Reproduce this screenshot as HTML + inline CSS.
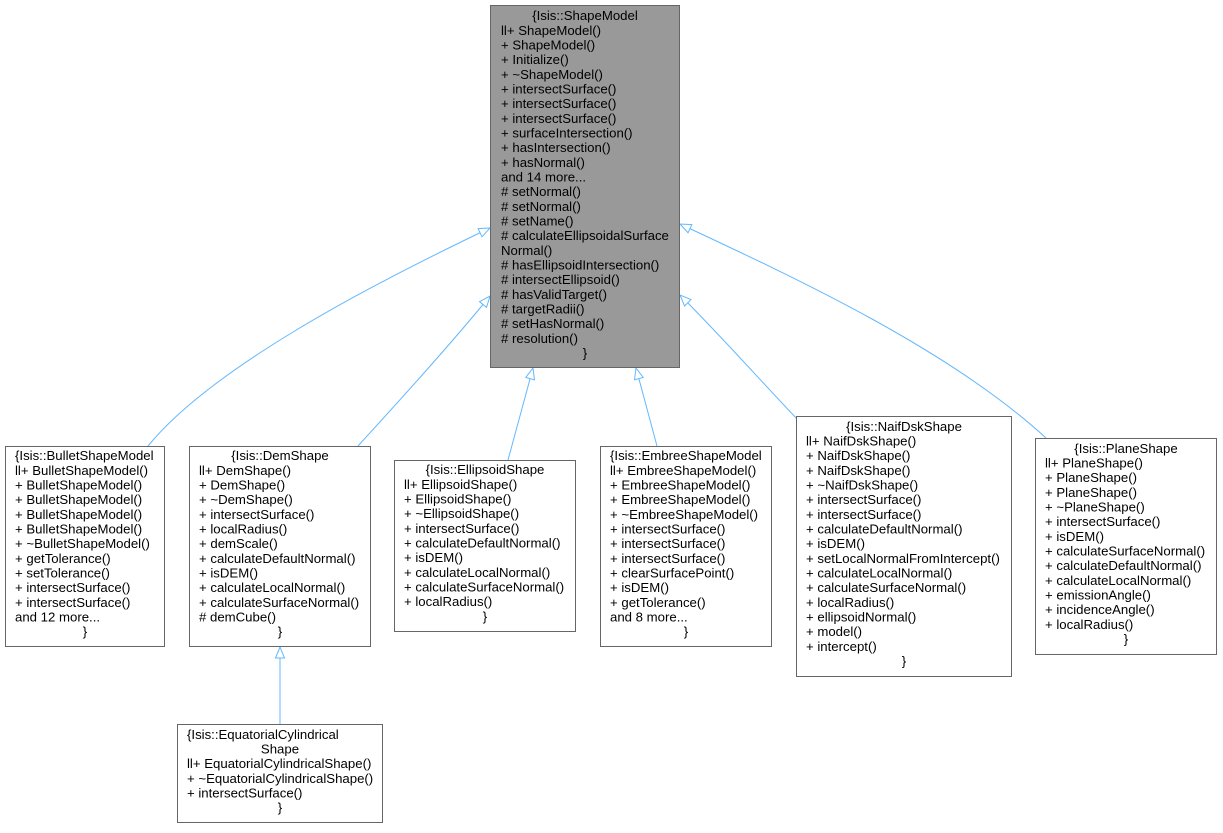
<!DOCTYPE html>
<html><head><meta charset="utf-8"><style>
html,body{margin:0;padding:0;background:#fff}
svg text{font-family:"Liberation Sans",Arial,sans-serif;font-size:13.2px;fill:#000}
</style></head><body>
<svg width="1223" height="828" viewBox="0 0 1223 828" xmlns="http://www.w3.org/2000/svg">
<defs>
<marker id="a" markerWidth="13" markerHeight="11" refX="12" refY="5.5" orient="auto" markerUnits="userSpaceOnUse">
<path d="M1,1 L12,5.5 L1,10 Z" fill="#fff" stroke="#63b8ff" stroke-width="1"/>
</marker>
</defs>
<g fill="none" stroke="#63b8ff" stroke-width="1" marker-end="url(#a)">
<path d="M148,446 C210,370 360,290 490,228"/>
<path d="M358,446 C400,400 450,345 490,296"/>
<path d="M508,460 L533,368"/>
<path d="M657,446 L636,368"/>
<path d="M798,420 C760,380 720,335 680,295"/>
<path d="M1046,438 C950,350 800,280 680,224"/>
<path d="M280,724 L280,647"/>
</g>
<rect x="490.5" y="5.5" width="189" height="362" fill="#999" stroke="#666"/>
<g>
<text x="585" y="20" text-anchor="middle">{Isis::ShapeModel</text>
<text x="501" y="35">ll+ ShapeModel()</text>
<text x="501" y="49.5">+ ShapeModel()</text>
<text x="501" y="64">+ Initialize()</text>
<text x="501" y="79">+ ~ShapeModel()</text>
<text x="501" y="93.5">+ intersectSurface()</text>
<text x="501" y="108">+ intersectSurface()</text>
<text x="501" y="123">+ intersectSurface()</text>
<text x="501" y="137.5">+ surfaceIntersection()</text>
<text x="501" y="152">+ hasIntersection()</text>
<text x="501" y="167">+ hasNormal()</text>
<text x="501" y="181.5">and 14 more...</text>
<text x="501" y="196">#&#160;setNormal()</text>
<text x="501" y="211">#&#160;setNormal()</text>
<text x="501" y="225.5">#&#160;setName()</text>
<text x="501" y="240">#&#160;calculateEllipsoidalSurface</text>
<text x="501" y="255">Normal()</text>
<text x="501" y="269.5">#&#160;hasEllipsoidIntersection()</text>
<text x="501" y="284">#&#160;intersectEllipsoid()</text>
<text x="501" y="299">#&#160;hasValidTarget()</text>
<text x="501" y="313.5">#&#160;targetRadii()</text>
<text x="501" y="328">#&#160;setHasNormal()</text>
<text x="501" y="343">#&#160;resolution()</text>
<text x="585" y="357.5" text-anchor="middle">}</text>
</g>
<rect x="5.5" y="446.5" width="159" height="200" fill="#fff" stroke="#666"/>
<g>
<text x="15" y="460">{Isis::BulletShapeModel</text>
<text x="15" y="475">ll+ BulletShapeModel()</text>
<text x="15" y="489.5">+ BulletShapeModel()</text>
<text x="15" y="504">+ BulletShapeModel()</text>
<text x="15" y="519">+ BulletShapeModel()</text>
<text x="15" y="533.5">+ BulletShapeModel()</text>
<text x="15" y="548">+ ~BulletShapeModel()</text>
<text x="15" y="563">+ getTolerance()</text>
<text x="15" y="577.5">+ setTolerance()</text>
<text x="15" y="592">+ intersectSurface()</text>
<text x="15" y="607">+ intersectSurface()</text>
<text x="15" y="621.5">and 12 more...</text>
<text x="85" y="636" text-anchor="middle">}</text>
</g>
<rect x="189.5" y="446.5" width="181" height="200" fill="#fff" stroke="#666"/>
<g>
<text x="280" y="460" text-anchor="middle">{Isis::DemShape</text>
<text x="199" y="475">ll+ DemShape()</text>
<text x="199" y="489.5">+ DemShape()</text>
<text x="199" y="504">+ ~DemShape()</text>
<text x="199" y="519">+ intersectSurface()</text>
<text x="199" y="533.5">+ localRadius()</text>
<text x="199" y="548">+ demScale()</text>
<text x="199" y="563">+ calculateDefaultNormal()</text>
<text x="199" y="577.5">+ isDEM()</text>
<text x="199" y="592">+ calculateLocalNormal()</text>
<text x="199" y="607">+ calculateSurfaceNormal()</text>
<text x="199" y="621.5">#&#160;demCube()</text>
<text x="280" y="636" text-anchor="middle">}</text>
</g>
<rect x="394.5" y="460.5" width="181" height="171" fill="#fff" stroke="#666"/>
<g>
<text x="485" y="474" text-anchor="middle">{Isis::EllipsoidShape</text>
<text x="404" y="489">ll+ EllipsoidShape()</text>
<text x="404" y="503.5">+ EllipsoidShape()</text>
<text x="404" y="518">+ ~EllipsoidShape()</text>
<text x="404" y="533">+ intersectSurface()</text>
<text x="404" y="547.5">+ calculateDefaultNormal()</text>
<text x="404" y="562">+ isDEM()</text>
<text x="404" y="577">+ calculateLocalNormal()</text>
<text x="404" y="591.5">+ calculateSurfaceNormal()</text>
<text x="404" y="606">+ localRadius()</text>
<text x="485" y="621" text-anchor="middle">}</text>
</g>
<rect x="600.5" y="446.5" width="171" height="200" fill="#fff" stroke="#666"/>
<g>
<text x="610" y="460">{Isis::EmbreeShapeModel</text>
<text x="610" y="475">ll+ EmbreeShapeModel()</text>
<text x="610" y="489.5">+ EmbreeShapeModel()</text>
<text x="610" y="504">+ EmbreeShapeModel()</text>
<text x="610" y="519">+ ~EmbreeShapeModel()</text>
<text x="610" y="533.5">+ intersectSurface()</text>
<text x="610" y="548">+ intersectSurface()</text>
<text x="610" y="563">+ intersectSurface()</text>
<text x="610" y="577.5">+ clearSurfacePoint()</text>
<text x="610" y="592">+ isDEM()</text>
<text x="610" y="607">+ getTolerance()</text>
<text x="610" y="621.5">and 8 more...</text>
<text x="686" y="636" text-anchor="middle">}</text>
</g>
<rect x="796.5" y="416.5" width="215" height="260" fill="#fff" stroke="#666"/>
<g>
<text x="904" y="431" text-anchor="middle">{Isis::NaifDskShape</text>
<text x="806" y="445.5">ll+ NaifDskShape()</text>
<text x="806" y="460">+ NaifDskShape()</text>
<text x="806" y="475">+ NaifDskShape()</text>
<text x="806" y="489.5">+ ~NaifDskShape()</text>
<text x="806" y="504">+ intersectSurface()</text>
<text x="806" y="519">+ intersectSurface()</text>
<text x="806" y="533.5">+ calculateDefaultNormal()</text>
<text x="806" y="548">+ isDEM()</text>
<text x="806" y="563">+ setLocalNormalFromIntercept()</text>
<text x="806" y="577.5">+ calculateLocalNormal()</text>
<text x="806" y="592">+ calculateSurfaceNormal()</text>
<text x="806" y="607">+ localRadius()</text>
<text x="806" y="621.5">+ ellipsoidNormal()</text>
<text x="806" y="636">+ model()</text>
<text x="806" y="651">+ intercept()</text>
<text x="904" y="665.5" text-anchor="middle">}</text>
</g>
<rect x="1035.5" y="438.5" width="181" height="216" fill="#fff" stroke="#666"/>
<g>
<text x="1126" y="453" text-anchor="middle">{Isis::PlaneShape</text>
<text x="1045" y="467.5">ll+ PlaneShape()</text>
<text x="1045" y="482">+ PlaneShape()</text>
<text x="1045" y="497">+ PlaneShape()</text>
<text x="1045" y="511.5">+ ~PlaneShape()</text>
<text x="1045" y="526">+ intersectSurface()</text>
<text x="1045" y="541">+ isDEM()</text>
<text x="1045" y="555.5">+ calculateSurfaceNormal()</text>
<text x="1045" y="570">+ calculateDefaultNormal()</text>
<text x="1045" y="585">+ calculateLocalNormal()</text>
<text x="1045" y="599.5">+ emissionAngle()</text>
<text x="1045" y="614">+ incidenceAngle()</text>
<text x="1045" y="629">+ localRadius()</text>
<text x="1126" y="643.5" text-anchor="middle">}</text>
</g>
<rect x="177.5" y="724.5" width="205" height="98" fill="#fff" stroke="#666"/>
<g>
<text x="187" y="739">{Isis::EquatorialCylindrical</text>
<text x="280" y="753.5" text-anchor="middle">Shape</text>
<text x="187" y="768">ll+ EquatorialCylindricalShape()</text>
<text x="187" y="783">+ ~EquatorialCylindricalShape()</text>
<text x="187" y="797.5">+ intersectSurface()</text>
<text x="280" y="812" text-anchor="middle">}</text>
</g>
</svg>
</body></html>
